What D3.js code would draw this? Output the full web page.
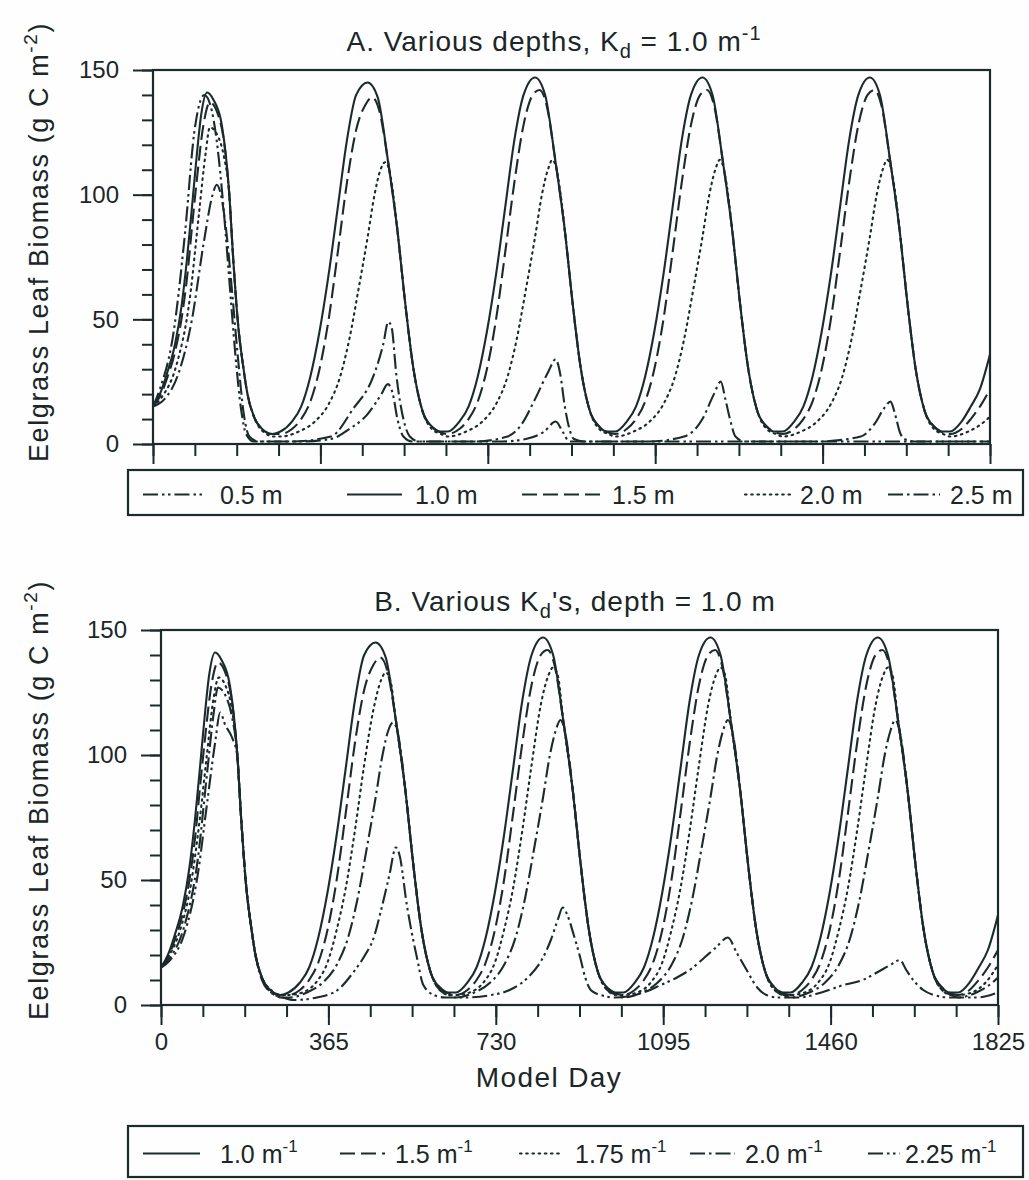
<!DOCTYPE html>
<html>
<head>
<meta charset="utf-8">
<script src="https://cdn.jsdelivr.net/npm/d3@7"></script>
<style>
  body { margin: 0; background: #fdfefd; }
  svg text { font-family: "Liberation Sans", Arial, Helvetica, sans-serif; fill: #1b2628; }
</style>
</head>
<body>
<div id="chart"></div>
<script>
// ---- data: [model day, leaf biomass g C m-2] ----
// depth 1.0 m, Kd 1.0 (same run appears in both panels)
const run10 = [[0,15],[15,20],[30,28],[48,40],[62,55],[74,74],[85,95],[95,115],[105,132],[118,141],[132,138],[150,128],[166,101],[175,74],[186,47],[196,32],[206,20],[220,11],[238,6],[260,4],
  [278,5],[303,9],[323,15],[343,27],[363,45],[383,68],[403,95],[423,122],[443,140],[468,145],[490,139],[512,114],[534,84],[549,58],[568,30],[588,13],[608,7],[623,5],
  [643,5],[668,9],[688,15],[708,27],[728,45],[748,68],[768,95],[788,122],[808,140],[833,147],[855,140],[877,114],[899,84],[914,58],[933,30],[953,13],[973,7],[988,5],
  [1008,5],[1033,9],[1053,15],[1073,27],[1093,45],[1113,68],[1133,95],[1153,122],[1173,140],[1198,147],[1220,140],[1242,114],[1264,84],[1279,58],[1298,30],[1318,13],[1338,7],[1353,5],
  [1373,5],[1398,9],[1418,15],[1438,27],[1458,45],[1478,68],[1498,95],[1518,122],[1538,140],[1563,147],[1585,140],[1607,114],[1629,84],[1644,58],[1663,30],[1683,13],[1703,7],[1718,5],
  [1738,5],[1763,9],[1783,15],[1803,22],[1825,36]];

// depth 1.5 m / Kd 1.5
const run15 = [[0,15],[15,19],[30,26],[48,37],[62,50],[75,68],[85,87],[95,105],[110,128],[124,137],[140,133],[155,121],[166,101],[175,74],[186,47],[196,32],[206,20],[220,11],[238,6],[260,4],
  [278,4],[303,6],[323,10],[343,17],[363,30],[383,50],[403,77],[423,105],[443,126],[463,136],[478,139],[493,134],[512,114],[534,84],[549,58],[568,30],[588,13],[608,7],[623,5],
  [643,4],[668,6],[688,10],[708,17],[728,30],[748,50],[768,77],[788,105],[808,128],[828,140],[843,142],[858,136],[877,114],[899,84],[914,58],[933,30],[953,13],[973,7],[988,5],
  [1008,4],[1033,6],[1053,10],[1073,17],[1093,30],[1113,50],[1133,77],[1153,105],[1173,128],[1193,140],[1208,142],[1223,136],[1242,114],[1264,84],[1279,58],[1298,30],[1318,13],[1338,7],[1353,5],
  [1373,4],[1398,6],[1418,10],[1438,17],[1458,30],[1478,50],[1498,77],[1518,105],[1538,128],[1558,140],[1573,142],[1588,136],[1607,114],[1629,84],[1644,58],[1663,30],[1683,13],[1703,7],[1718,5],
  [1738,4],[1763,6],[1783,10],[1803,15],[1825,22]];

// depth 2.0 m / Kd 2.0
const run20 = [[0,15],[20,19],[50,31],[80,58],[100,92],[115,117],[124,127],[140,124],[155,115],[166,101],[175,74],[186,47],[196,32],[206,20],[220,11],[240,5],[265,3],
  [278,3],[318,5],[353,9],[383,16],[408,27],[428,42],[448,62],[468,83],[483,100],[496,110],[506,113],[515,110],[526,97],[534,84],[549,58],[568,30],[588,13],[608,6],[628,4],
  [643,3],[683,5],[718,9],[748,16],[773,27],[793,42],[813,62],[833,83],[848,100],[861,110],[871,114],[880,110],[891,97],[899,84],[914,58],[933,30],[953,13],[973,6],[993,4],
  [1008,3],[1048,5],[1083,9],[1113,16],[1138,27],[1158,42],[1178,62],[1198,83],[1213,100],[1226,110],[1236,114],[1245,110],[1256,97],[1264,84],[1279,58],[1298,30],[1318,13],[1338,6],[1358,4],
  [1373,3],[1413,5],[1448,9],[1478,16],[1503,27],[1523,42],[1543,62],[1563,83],[1578,100],[1591,110],[1601,114],[1610,110],[1621,97],[1629,84],[1644,58],[1663,30],[1683,13],[1703,6],[1723,4],
  [1738,3],[1778,5],[1813,9],[1825,11]];

// depth 0.5 m
const run05 = [[0,15],[15,22],[45,45],[70,85],[90,125],[112,140],[125,136],[140,120],[155,92],[168,62],[180,35],[192,14],[203,4],[220,1],
  [320,1],[388,2],[428,6],[468,12],[498,20],[512,24],[523,20],[533,10],[546,3],[565,1],
  [760,1],[813,2],[853,5],[878,9],[893,5],[908,1],[1100,1],[1500,1],[1825,1]];

// depth 2.5 m
const run25 = [[0,15],[25,18],[55,28],[85,50],[110,80],[130,100],[139,104],[148,100],[160,85],[172,62],[185,35],[198,12],[210,3],[230,1],
  [300,1],[388,3],[436,14],[480,27],[502,40],[513,49],[520,47],[531,27],[546,10],[560,3],[580,1],
  [700,1],[773,3],[804,8],[833,18],[862,29],[878,34],[888,28],[898,15],[908,6],[918,2],[940,1],
  [1080,1],[1158,3],[1198,10],[1223,20],[1238,25],[1248,18],[1258,10],[1270,3],[1290,1],
  [1450,1],[1543,3],[1573,8],[1593,14],[1608,17],[1618,12],[1628,5],[1638,2],[1660,1],[1825,1]];

// Kd 1.75
const run175 = [[0,15],[15,19],[40,29],[65,48],[85,75],[100,100],[114,122],[126,131],[140,128],[155,118],[166,101],[175,74],[186,47],[196,32],[206,20],[220,11],[240,6],[262,4],
  [278,4],[308,5],[338,9],[363,17],[383,30],[403,47],[423,70],[443,96],[463,118],[480,130],[490,133],[500,130],[512,114],[534,84],[549,58],[568,30],[588,13],[608,6],[628,4],
  [643,4],[673,5],[703,9],[728,17],[748,30],[768,47],[788,70],[808,96],[828,120],[845,132],[855,135],[865,132],[877,114],[899,84],[914,58],[933,30],[953,13],[973,6],[993,4],
  [1008,4],[1038,5],[1068,9],[1093,17],[1113,30],[1133,47],[1153,70],[1173,96],[1193,120],[1210,132],[1220,135],[1230,132],[1242,114],[1264,84],[1279,58],[1298,30],[1318,13],[1338,6],[1358,4],
  [1373,4],[1403,5],[1433,9],[1458,17],[1478,30],[1498,47],[1518,70],[1538,96],[1558,120],[1575,132],[1585,135],[1595,132],[1607,114],[1629,84],[1644,58],[1663,30],[1683,13],[1703,6],[1723,4],
  [1738,4],[1768,5],[1798,9],[1825,16]];

// Kd 2.25
const run225 = [[0,15],[20,18],[50,28],[80,52],[100,80],[118,105],[129,117],[140,112],[155,107],[166,100],[175,74],[186,47],[196,32],[206,20],[220,10],[240,5],[265,3],
  [290,2],[340,3],[385,6],[419,13],[445,20],[462,26],[480,38],[498,52],[512,63],[520,60],[536,40],[558,19],[572,8],[595,4],[620,3],
  [660,3],[720,4],[760,6],[800,11],[830,18],[850,26],[865,34],[876,39],[886,36],[900,28],[914,19],[925,11],[937,6],[958,4],[990,3],
  [1052,5],[1090,8],[1125,11],[1160,15],[1185,19],[1210,23],[1236,27],[1255,21],[1277,14],[1300,7],[1320,4],[1345,3],
  [1390,3],[1440,5],[1488,8],[1530,10],[1561,13],[1590,16],[1611,18],[1625,14],[1640,10],[1662,6],[1685,4],[1720,3],[1780,3],[1825,5]];

const dayTicks = [0, 365, 730, 1095, 1460, 1825];
const biomassTicks = [0, 50, 100, 150];
const depthLabels = ['0.5 m', '1.0 m', '1.5 m', '2.0 m', '2.5 m'];
const kdLabels = ['1.0 m', '1.5 m', '1.75 m', '2.0 m', '2.25 m'];

// line styles
const INK = '#1d2a2c';
const dash = {
  solid: null,
  longdash: '15,6',
  dot: '1.6,4.6',
  dashdot: '15,4,2.5,4',
  dashdotdot: '15,4,2.5,3.5,2.5,4'
};

const width = 1029, height = 1180;
const svg = d3.select('#chart').append('svg')
  .attr('width', width)
  .attr('height', height);

svg.append('rect').attr('width', width).attr('height', height).attr('fill', '#fdfefd');

function drawPanel(cfg) {
  const x = d3.scaleLinear().domain([0, 1825]).range([cfg.left, cfg.right]);
  const y = d3.scaleLinear().domain([0, 150]).range([cfg.bottom, cfg.top]);
  const g = svg.append('g');

  // minor/major ticks on the day axis
  g.append('g')
    .attr('transform', `translate(0,${cfg.bottom})`)
    .call(d3.axisBottom(x).tickValues(d3.range(0, 1826, 91.25)).tickSize(12).tickFormat(''));
  g.append('g')
    .attr('transform', `translate(0,${cfg.bottom})`)
    .call(d3.axisBottom(x).tickValues(dayTicks).tickSize(20).tickPadding(8)
      .tickFormat(cfg.xLabels ? d3.format('d') : ''));

  // biomass axis
  g.append('g')
    .attr('transform', `translate(${cfg.left},0)`)
    .call(d3.axisLeft(y).tickValues(d3.range(0, 151, 10)).tickSize(11).tickFormat(''));
  g.append('g')
    .attr('transform', `translate(${cfg.left},0)`)
    .call(d3.axisLeft(y).tickValues(biomassTicks).tickSize(20).tickPadding(14));

  g.selectAll('.domain').remove();
  g.selectAll('.tick line').attr('stroke', INK).attr('stroke-width', 2);
  g.selectAll('.tick text').attr('font-size', 24).attr('fill', '#1b2628')
    .attr('font-family', '"Liberation Sans", Arial, sans-serif');

  // frame
  g.append('rect')
    .attr('x', cfg.left).attr('y', cfg.top)
    .attr('width', cfg.right - cfg.left).attr('height', cfg.bottom - cfg.top)
    .attr('fill', 'none').attr('stroke', INK).attr('stroke-width', 2.2);

  const clipId = 'clip-' + cfg.id;
  svg.append('clipPath').attr('id', clipId)
    .append('rect')
    .attr('x', cfg.left).attr('y', cfg.top - 2)
    .attr('width', cfg.right - cfg.left).attr('height', cfg.bottom - cfg.top + 2);

  const line = d3.line()
    .x(d => x(d[0]))
    .y(d => y(d[1]))
    .curve(d3.curveMonotoneX);

  g.append('g').attr('clip-path', `url(#${clipId})`)
    .selectAll('path')
    .data(cfg.series)
    .join('path')
    .attr('d', d => line(d.values))
    .attr('fill', 'none')
    .attr('stroke', INK)
    .attr('stroke-width', 2.1)
    .attr('stroke-linejoin', 'round')
    .attr('stroke-linecap', d => d.style === 'dot' ? 'round' : 'butt')
    .attr('stroke-dasharray', d => dash[d.style]);

  // title
  const t = svg.append('text')
    .attr('x', cfg.titleX).attr('y', cfg.top - 19)
    .attr('text-anchor', 'middle')
    .attr('font-size', 28)
    .attr('letter-spacing', 1);
  cfg.title(t);

  // y label
  const yl = svg.append('text')
    .attr('transform', `translate(48,${cfg.labelY}) rotate(-90)`)
    .attr('text-anchor', 'middle')
    .attr('font-size', 27)
    .attr('letter-spacing', 1.6);
  yl.append('tspan').text('Eelgrass Leaf Biomass (g C m');
  yl.append('tspan').attr('dy', -11).attr('font-size', 19).text('-2');
  yl.append('tspan').attr('dy', 11).text(')');

  // legend box
  const lg = svg.append('g');
  lg.append('rect')
    .attr('x', 128).attr('y', cfg.legendY)
    .attr('width', 895).attr('height', cfg.legendH)
    .attr('fill', 'none').attr('stroke', INK).attr('stroke-width', 2.2);
  const items = lg.selectAll('g.item')
    .data(cfg.series)
    .join('g').attr('class', 'item');
  items.append('line')
    .attr('x1', (d, i) => cfg.legendLine[i][0])
    .attr('x2', (d, i) => cfg.legendLine[i][1])
    .attr('y1', cfg.legendY + cfg.legendH / 2 + 2).attr('y2', cfg.legendY + cfg.legendH / 2 + 2)
    .attr('stroke', INK).attr('stroke-width', 2.1)
    .attr('stroke-linecap', d => d.style === 'dot' ? 'round' : 'butt')
    .attr('stroke-dasharray', d => dash[d.style]);
  const lt = items.append('text')
    .attr('x', (d, i) => cfg.legendText[i])
    .attr('y', cfg.legendY + cfg.legendH / 2 + 11)
    .attr('font-size', 25);
  lt.append('tspan').text(d => d.label);
  if (cfg.legendSup) {
    lt.append('tspan').attr('dy', -11).attr('font-size', 17).text('-1');
  }
}

drawPanel({
  id: 'a', left: 153, right: 990, top: 70, bottom: 444,
  xLabels: false,
  titleX: 554,
  labelY: 242,
  title: t => {
    t.append('tspan').text('A. Various depths, K');
    t.append('tspan').attr('dy', 7).attr('font-size', 20).text('d');
    t.append('tspan').attr('dy', -7).text(' = 1.0 m');
    t.append('tspan').attr('dy', -11).attr('font-size', 20).text('-1');
  },
  series: [
    {label: depthLabels[0], values: run05, style: 'dashdotdot'},
    {label: depthLabels[1], values: run10, style: 'solid'},
    {label: depthLabels[2], values: run15, style: 'longdash'},
    {label: depthLabels[3], values: run20, style: 'dot'},
    {label: depthLabels[4], values: run25, style: 'dashdot'}
  ],
  legendY: 470, legendH: 45,
  legendLine: [[143, 205], [347, 402], [522, 600], [745, 790], [888, 940]],
  legendText: [220, 415, 612, 800, 950],
  legendSup: false
});

drawPanel({
  id: 'b', left: 161, right: 998, top: 630, bottom: 1005,
  xLabels: true,
  titleX: 575,
  labelY: 800,
  title: t => {
    t.append('tspan').text('B. Various K');
    t.append('tspan').attr('dy', 7).attr('font-size', 20).text('d');
    t.append('tspan').attr('dy', -7).text('\'s, depth = 1.0 m');
  },
  series: [
    {label: kdLabels[0], values: run10, style: 'solid'},
    {label: kdLabels[1], values: run15, style: 'longdash'},
    {label: kdLabels[2], values: run175, style: 'dot'},
    {label: kdLabels[3], values: run20, style: 'dashdot'},
    {label: kdLabels[4], values: run225, style: 'dashdotdot'}
  ],
  legendY: 1126, legendH: 51,
  legendLine: [[143, 200], [340, 385], [520, 560], [690, 735], [868, 900]],
  legendText: [220, 395, 575, 745, 905],
  legendSup: true
});

// day axis title
svg.append('text')
  .attr('x', 549).attr('y', 1087)
  .attr('text-anchor', 'middle')
  .attr('font-size', 28)
  .attr('letter-spacing', 1.4)
  .text('Model Day');
</script>
</body>
</html>
